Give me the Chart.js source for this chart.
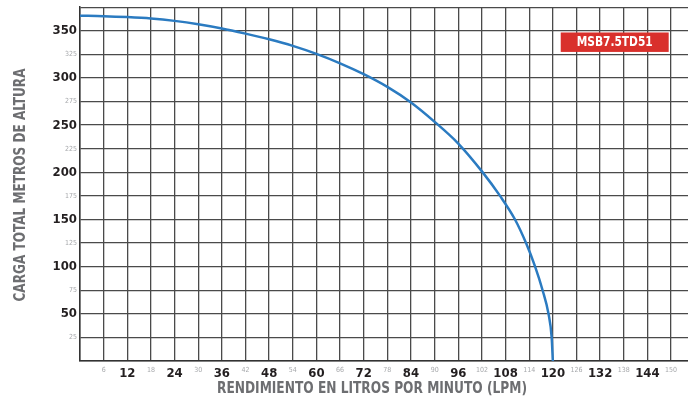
<!DOCTYPE html>
<html>
<head>
<meta charset="utf-8">
<style>
  html, body { margin: 0; padding: 0; background: #ffffff; }
  #wrap { width: 688px; height: 400px; }
</style>
<script src="https://cdn.jsdelivr.net/npm/chart.js@4.4.1/dist/chart.umd.min.js"></script>
</head>
<body>
<div id="wrap"><canvas id="pump" width="688" height="400"></canvas></div>
<script>
// Pump performance curve: flow (LPM) vs total head (m)
const flowLpm = [0, 6, 12, 18, 24, 30, 36, 42, 48, 54, 60, 66, 72, 78, 84, 90, 96, 102, 106.6, 110.4, 113.2, 115.5, 117.4, 118.9, 119.7, 120];
const headM   = [366, 365.5, 364.5, 363, 360.5, 357, 352.5, 347, 341, 334, 325.5, 315.5, 304, 290.5, 274, 253.5, 230.5, 201, 175, 150, 125, 100, 75, 50, 25, 0];

// Axis tick labels
const xTicks = [6, 12, 18, 24, 30, 36, 42, 48, 54, 60, 66, 72, 78, 84, 90, 96, 102, 108, 114, 120, 126, 132, 138, 144, 150];
const yTicks = [25, 50, 75, 100, 125, 150, 175, 200, 225, 250, 275, 300, 325, 350, 375];

const modelName = 'MSB7.5TD51';
const xTitle = 'RENDIMIENTO EN LITROS POR MINUTO (LPM)';
const yTitle = 'CARGA TOTAL METROS DE ALTURA';

const FONT = "'Liberation Sans Narrow', 'DejaVu Sans Condensed', 'Arial Narrow', sans-serif";
const GRID = '#4a4a4a';

const points = flowLpm.map((x, i) => ({ x: x, y: headM[i] }));

// draws text squeezed horizontally to a given width
function narrowText(ctx, text, cx, cy, width) {
  const w = ctx.measureText(text).width;
  const k = Math.min(1, width / w);
  ctx.save();
  ctx.translate(cx, cy);
  ctx.scale(k, 1);
  ctx.fillText(text, 0, 0);
  ctx.restore();
}

const decorations = {
  id: 'decorations',
  afterDraw(chart) {
    const { ctx, scales } = chart;
    ctx.save();
    ctx.fillStyle = '#6d6e71';
    ctx.textAlign = 'center';
    ctx.textBaseline = 'middle';
    ctx.font = 'bold 16px ' + FONT;
    narrowText(ctx, xTitle, 372, 389, 310);
    ctx.translate(21, 185);
    ctx.rotate(-Math.PI / 2);
    ctx.font = 'bold 16px ' + FONT;
    narrowText(ctx, yTitle, 0, 0, 233);
    ctx.restore();

    // model badge
    ctx.save();
    const x0 = scales.x.getPixelForValue(122.0);
    const x1 = scales.x.getPixelForValue(149.4);
    const y0 = scales.y.getPixelForValue(348.2);
    const y1 = scales.y.getPixelForValue(327.6);
    ctx.fillStyle = '#d9302c';
    ctx.fillRect(x0, y0, x1 - x0, y1 - y0);
    ctx.fillStyle = '#ffffff';
    ctx.font = 'bold 14px ' + FONT;
    ctx.textAlign = 'center';
    ctx.textBaseline = 'middle';
    narrowText(ctx, modelName, (x0 + x1) / 2, (y0 + y1) / 2 + 0.5, 76);
    ctx.restore();
  }
};

const tickVal = ctx => (ctx && ctx.tick ? ctx.tick.value : null);
const isMajorX = v => v !== null && v % 12 === 0;
const isMajorY = v => v !== null && v % 50 === 0;

new Chart(document.getElementById('pump'), {
  type: 'scatter',
  data: {
    datasets: [{
      data: points,
      showLine: true,
      borderColor: '#2b7bc1',
      borderWidth: 2.5,
      pointRadius: 0,
      cubicInterpolationMode: 'monotone',
      fill: false
    }]
  },
  options: {
    responsive: false,
    animation: false,
    devicePixelRatio: 1,
    layout: { padding: { top: 7, right: 0, left: 0, bottom: 0 } },
    plugins: { legend: { display: false }, tooltip: { enabled: false } },
    scales: {
      x: {
        type: 'linear',
        min: 0,
        max: 154.3,
        afterBuildTicks: s => { s.ticks = [0].concat(xTicks).map(v => ({ value: v })); },
        afterFit: s => { s.height = 39; },
        grid: { color: GRID, lineWidth: 1.3, drawTicks: false },
        border: { color: '#333333', width: 1.5 },
        ticks: {
          padding: 5,
          autoSkip: false,
          maxRotation: 0,
          callback: v => (v === 0 ? '' : String(v)),
          color: ctx => (isMajorX(tickVal(ctx)) ? '#231f20' : '#a7a9ac'),
          font: ctx => (isMajorX(tickVal(ctx))
            ? { family: FONT, size: 13, weight: 'bold' }
            : { family: FONT, size: 7 })
        }
      },
      y: {
        type: 'linear',
        min: 0,
        max: 375,
        afterBuildTicks: s => { s.ticks = [0].concat(yTicks).map(v => ({ value: v })); },
        afterFit: s => { s.width = 80; },
        grid: { color: GRID, lineWidth: 1.3, drawTicks: false },
        border: { color: '#333333', width: 1.5 },
        ticks: {
          padding: 3,
          autoSkip: false,
          callback: v => (v === 0 || v === 375 ? '' : String(v)),
          color: ctx => (isMajorY(tickVal(ctx)) ? '#231f20' : '#a7a9ac'),
          font: ctx => (isMajorY(tickVal(ctx))
            ? { family: FONT, size: 13, weight: 'bold' }
            : { family: FONT, size: 7 })
        }
      }
    }
  },
  plugins: [decorations]
});
</script>
</body>
</html>
